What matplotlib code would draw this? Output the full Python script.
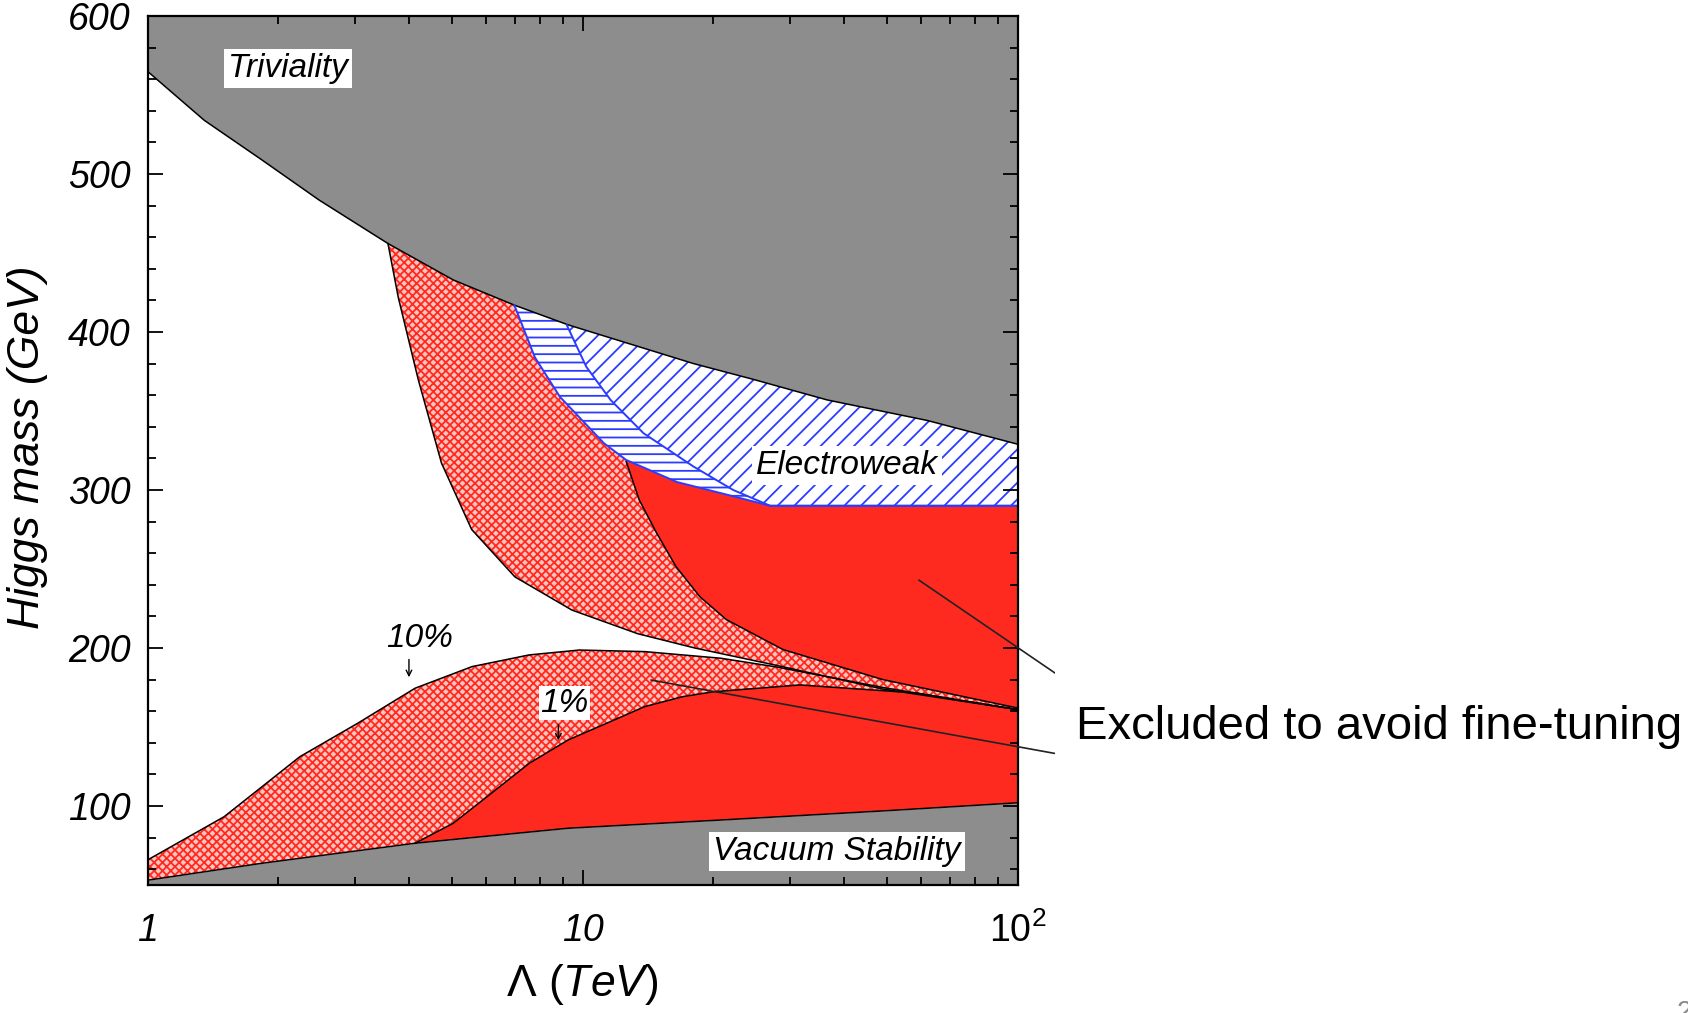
import matplotlib
matplotlib.use('Agg')
import matplotlib.pyplot as plt
from matplotlib.ticker import MultipleLocator, NullFormatter
from matplotlib.patches import Rectangle

plt.rcParams['font.family'] = ['Liberation Sans', 'DejaVu Sans']
plt.rcParams['mathtext.fontset'] = 'custom'
plt.rcParams['mathtext.rm'] = 'Liberation Sans'
plt.rcParams['mathtext.it'] = 'Liberation Sans:italic'
plt.rcParams['hatch.linewidth'] = 1.3

# boundaries (Lambda in TeV, Higgs mass in GeV)
triv_x = [1, 1.35, 1.83, 2.48, 3.57, 5.04, 6.97, 9.27, 18, 24.7, 36.5, 62, 100]
triv_y = [565, 534, 509, 483.5, 456, 433, 417, 404.5, 380, 370, 357, 344, 329]

vac_x = [1, 1.83, 4.12, 9.27, 20.8, 50, 100]
vac_y = [53, 63.7, 76.4, 85.9, 91.1, 97, 102]

low10_x = [1, 1.5, 2.24, 3.04, 4.12, 5.57, 7.54, 9.83, 13.9, 20.8, 27.9, 49, 77, 100]
low10_y = [65.8, 93.2, 131.2, 152.3, 174.5, 188.2, 195.6, 198.7, 197.7, 193.5, 188, 175, 166, 161]

low1_x = [4.12, 5.04, 6.17, 7.54, 9.27, 11.35, 13.9, 17, 20, 31.6, 58.5, 100]
low1_y = [76.4, 89, 108, 127, 141.8, 152.3, 162.9, 169.2, 172.3, 176.6, 171.5, 161]

up10_x = [3.57, 3.77, 4.19, 4.74, 5.56, 6.99, 9.45, 13.4, 18.1, 27.9, 49, 100]
up10_y = [456, 422, 370, 317, 275, 245, 224, 209, 200, 189, 174, 161]

up1_x = [12.6, 13.5, 14.8, 16.4, 18.6, 21.4, 28.9, 49, 100]
up1_y = [318, 293.7, 272.8, 251.5, 232.5, 218, 199, 180, 162]

ew_out_x = [6.97, 7.77, 8.87, 11.2, 12.6, 16.5, 21.5, 27, 100]
ew_out_y = [417, 384, 359, 329.6, 319, 305, 297, 290, 290]

ew_in_x = [9.2, 10.2, 11.6, 13.8, 18, 22.2, 27, 100]
ew_in_y = [404.4, 378, 357, 336, 314.8, 300, 290, 290]

grey = '#8d8d8d'
red = '#ff2a1f'
pink = '#ffc4bf'
blue = '#2b3cff'


def tail(xs, ys, x0):
    # points of a curve from x0 onwards
    return [x for x in xs if x >= x0], [y for x, y in zip(xs, ys) if x >= x0]


fig = plt.figure(figsize=(16.88, 10.13), dpi=100)
ax = fig.add_axes([0.0874, 0.1264, 0.5154, 0.8578])

# grey excluded regions
ax.fill_between(triv_x, triv_y, 600, color=grey, lw=0)
ax.fill_between(vac_x, 50, vac_y, color=grey, lw=0)

# lower 10% band
ax.fill(low10_x + vac_x[::-1], low10_y + vac_y[::-1],
        facecolor=pink, edgecolor=red, hatch='xxxx', lw=0)
# lower 1% band
vx, vy = tail(vac_x, vac_y, 4.12)
ax.fill(low1_x + vx[::-1], low1_y + vy[::-1], color=red, lw=0)

# upper 10% band
tx, ty = tail(triv_x, triv_y, 3.57)
ax.fill(up10_x + tx[::-1], up10_y + ty[::-1],
        facecolor=pink, edgecolor=red, hatch='xxxx', lw=0)
# upper 1% band
ex, ey = tail(ew_out_x, ew_out_y, 12.6)
ax.fill(up1_x + ex[::-1], up1_y + ey[::-1], color=red, lw=0)

# electroweak
tx, ty = tail(triv_x, triv_y, 6.97)
ax.fill(ew_out_x + tx[::-1], ew_out_y + ty[::-1],
        facecolor='white', edgecolor=blue, hatch='--', lw=0)
tx, ty = tail(triv_x, triv_y, 9.2)
ax.fill([9.2] + ew_in_x + tx[::-1], [404.5] + ew_in_y + ty[::-1],
        facecolor='white', edgecolor=blue, hatch='//', lw=0)

# boundary lines
for xs, ys in [(triv_x, triv_y), (vac_x, vac_y), (low10_x, low10_y),
               (low1_x, low1_y), (up10_x, up10_y), (up1_x, up1_y)]:
    ax.plot(xs, ys, color='black', lw=1.1)
ax.plot(ew_out_x, ew_out_y, color=blue, lw=1.4)
ax.plot(ew_in_x, ew_in_y, color=blue, lw=1.4)

# labels
box = dict(facecolor='white', edgecolor='none', pad=3)
ax.text(2.10, 566.5, 'Triviality', style='italic', fontsize=24,
        ha='center', va='center', bbox=box)
ax.text(40.6, 315.8, 'Electroweak', style='italic', fontsize=24,
        ha='center', va='center', bbox=box)
ax.text(38.5, 71.2, 'Vacuum Stability', style='italic', fontsize=24,
        ha='center', va='center', bbox=box)
ax.text(4.23, 206, '10%', style='italic', fontsize=24, ha='center', va='center')
ax.text(9.1, 165, '1%', style='italic', fontsize=24, ha='center', va='center',
        bbox=dict(facecolor='white', edgecolor='none', pad=1))
ax.annotate('', xy=(3.99, 179.7), xytext=(3.99, 194.5),
            arrowprops=dict(arrowstyle='->', lw=1, color='black'))
ax.annotate('', xy=(8.8, 139.7), xytext=(8.8, 153.3),
            arrowprops=dict(arrowstyle='->', lw=1, color='black'))

# pointer lines to the side note
ax.annotate('', xy=(59.3, 243), xycoords='data',
            xytext=(0.625, 0.3356), textcoords='figure fraction',
            arrowprops=dict(arrowstyle='-', lw=1.2, color='#222222',
                            shrinkA=0, shrinkB=0), annotation_clip=False)
ax.annotate('', xy=(14.37, 179.7), xycoords='data',
            xytext=(0.625, 0.2562), textcoords='figure fraction',
            arrowprops=dict(arrowstyle='-', lw=1.2, color='#222222',
                            shrinkA=0, shrinkB=0), annotation_clip=False)

# axes
ax.set_xscale('log')
ax.set_xlim(1, 100)
ax.set_ylim(50, 600)
ax.set_xticks([1, 10, 100])
ax.set_xticklabels(['1', '10', r'$\mathit{10}^{\mathit{2}}$'])
ax.set_yticks([100, 200, 300, 400, 500, 600])
ax.yaxis.set_minor_locator(MultipleLocator(20))
ax.yaxis.set_minor_formatter(NullFormatter())
ax.xaxis.set_minor_formatter(NullFormatter())
ax.tick_params(which='both', direction='in', top=True, right=True, width=1.3)
ax.tick_params(which='major', length=11, labelsize=27)
ax.tick_params(which='minor', length=6)
ax.tick_params(axis='x', pad=20)
ax.tick_params(axis='y', pad=12)
for lab in ax.get_xticklabels() + ax.get_yticklabels():
    lab.set_style('italic')
for s in ax.spines.values():
    s.set_linewidth(1.6)

fig.text(0.0160, 0.5588, 'Higgs mass (GeV)', rotation=90, style='italic',
         fontsize=32, ha='center', va='center')
fig.text(0.3448, 0.028, r'$\mathrm{\Lambda}\ \mathit{(TeV)}$', fontsize=32,
         ha='center', va='center')

# the slide crops the pasted plot on the right
fig.patches.append(Rectangle((0.625, 0), 0.375, 1, transform=fig.transFigure,
                             facecolor='white', edgecolor='none', zorder=5))
fig.text(0.6377, 0.2827, 'Excluded to avoid fine-tuning', fontsize=34,
         ha='left', va='center', zorder=6)
fig.text(0.9935, 0.0, '2', fontsize=20, color='#8a8a8a',
         ha='left', va='center', zorder=6)

fig.savefig('out.png', dpi=100)
